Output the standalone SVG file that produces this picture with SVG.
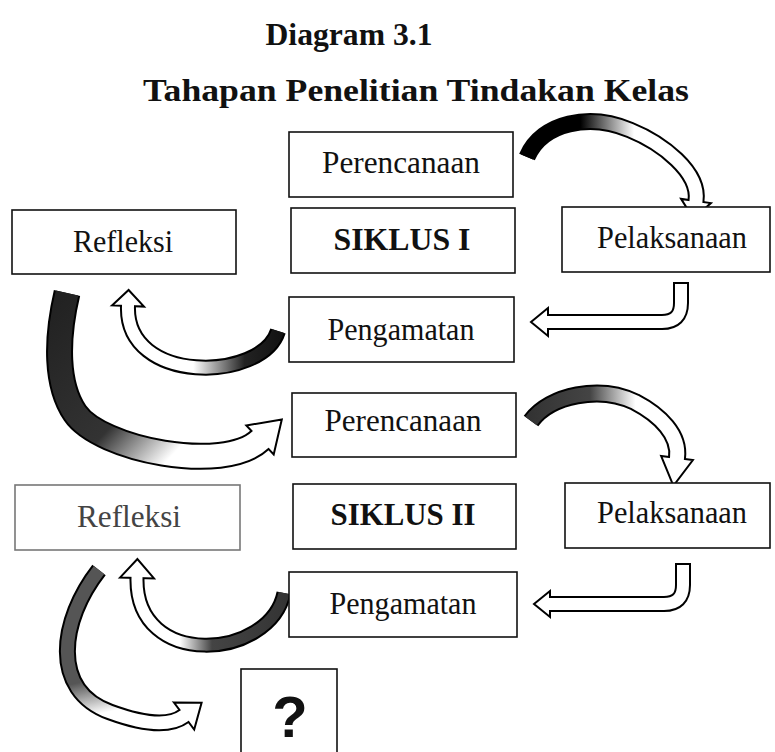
<svg xmlns="http://www.w3.org/2000/svg" width="775" height="752" viewBox="0 0 775 752">
<style>
  .box { fill:#fff; stroke:#111; stroke-width:1.6; }
  .t { font-family:"Liberation Serif","Times New Roman",serif; font-size:31px; fill:#111; text-anchor:middle; }
  .b { font-weight:bold; }
  .ttl { font-family:"Liberation Serif","Times New Roman",serif; font-size:32px; font-weight:bold; fill:#111; text-anchor:middle; }
  .bo { fill:none; stroke:#000; stroke-linecap:butt; stroke-linejoin:round; }
  .bi { fill:none; stroke-linecap:butt; stroke-linejoin:round; }
  .w { stroke:#fff; }
  .hd { fill:#fff; stroke:#000; stroke-width:2; stroke-linejoin:miter; }
</style>
<defs>
  <linearGradient id="g1" gradientUnits="userSpaceOnUse" x1="527" y1="150" x2="680" y2="150">
    <stop offset="0" stop-color="#000"/><stop offset="0.35" stop-color="#000"/><stop offset="0.7" stop-color="#fff"/>
  </linearGradient>
  <linearGradient id="g3" gradientUnits="userSpaceOnUse" x1="285" y1="0" x2="150" y2="0">
    <stop offset="0" stop-color="#111"/><stop offset="0.3" stop-color="#222"/><stop offset="0.68" stop-color="#fff"/>
  </linearGradient>
  <linearGradient id="g4" gradientUnits="userSpaceOnUse" x1="60" y1="300" x2="240" y2="470">
    <stop offset="0" stop-color="#222"/><stop offset="0.5" stop-color="#333"/><stop offset="0.76" stop-color="#fff"/>
  </linearGradient>
  <linearGradient id="g5" gradientUnits="userSpaceOnUse" x1="530" y1="0" x2="650" y2="0">
    <stop offset="0" stop-color="#333"/><stop offset="0.5" stop-color="#444"/><stop offset="0.88" stop-color="#fff"/>
  </linearGradient>
  <linearGradient id="g7" gradientUnits="userSpaceOnUse" x1="290" y1="0" x2="160" y2="0">
    <stop offset="0" stop-color="#333"/><stop offset="0.6" stop-color="#444"/><stop offset="0.85" stop-color="#fff"/>
  </linearGradient>
  <linearGradient id="g8" gradientUnits="userSpaceOnUse" x1="95" y1="565" x2="130" y2="720">
    <stop offset="0" stop-color="#555"/><stop offset="0.7" stop-color="#555"/><stop offset="0.92" stop-color="#fff"/>
  </linearGradient>
</defs>
<rect width="775" height="752" fill="#fff"/>

<g id="title">
  <text class="ttl" x="349" y="45" textLength="167" lengthAdjust="spacingAndGlyphs">Diagram 3.1</text>
  <text class="ttl" x="416" y="101" textLength="546" lengthAdjust="spacingAndGlyphs">Tahapan Penelitian Tindakan Kelas</text>
</g>

<g id="connectors">
  <g id="a1">
    <path class="bo" stroke-width="17" d="M527,157 C542,122 590,113 630,130 C662,143 700,172 696,201"/>
    <polygon class="hd" points="681.1,198.9 693.5,218.8 710.9,203.1"/>
    <path class="bi" style="stroke:url(#g1)" stroke-width="13" d="M527,157 C542,122 590,113 630,130 C662,143 700,172 696,201 L695.5,205"/>
  </g>
  <g id="a2">
    <path class="bo" stroke-width="16" d="M681,282 V303 Q681,322 662,322 H548"/>
    <polygon class="hd" points="548,308 531,322 548,336"/>
    <path class="bi w" stroke-width="12" d="M681,284 V303 Q681,322 662,322 H544"/>
  </g>
  <g id="a3">
    <path class="bo" stroke-width="16" d="M278,331 C262,382 125,385 128,306"/>
    <polygon class="hd" points="112,305.4 128.6,290 144,306.6"/>
    <path class="bi" style="stroke:url(#g3)" stroke-width="12" d="M278,331 C262,382 125,385 128,306 L128.2,302"/>
  </g>
  <g id="a4">
    <path class="bo" stroke-width="27" d="M67,293 C56,340 56,385 75,413 C100,450 224,474 260,440"/>
    <polygon class="hd" points="246.3,425.5 281.8,419.4 273.7,454.5"/>
    <path class="bi" style="stroke:url(#g4)" stroke-width="23" d="M67,293 C56,340 56,385 75,413 C100,450 224,474 260,440 L262.9,437.3"/>
  </g>
  <g id="a5">
    <path class="bo" stroke-width="18" d="M531,421 C550,395 600,385 635,402 C660,415 680,435 677,458"/>
    <polygon class="hd" points="661.1,455.9 673.4,485.8 692.9,460.1"/>
    <path class="bi" style="stroke:url(#g5)" stroke-width="14" d="M531,421 C550,395 600,385 635,402 C660,415 680,435 677,458 L676.5,462"/>
  </g>
  <g id="a6">
    <path class="bo" stroke-width="16" d="M683,563 V585 Q683,604 664,604 H550"/>
    <polygon class="hd" points="550,591 534,604 550,617"/>
    <path class="bi w" stroke-width="12" d="M683,565 V585 Q683,604 664,604 H546"/>
  </g>
  <g id="a7">
    <path class="bo" stroke-width="15" d="M284,593 C270,660 135,670 137,578"/>
    <polygon class="hd" points="120,577.6 137.4,559 154,578.4"/>
    <path class="bi" style="stroke:url(#g7)" stroke-width="11" d="M284,593 C270,660 135,670 137,578 L137.1,574"/>
  </g>
  <g id="a8">
    <path class="bo" stroke-width="17" d="M99,570 C60,620 50,690 110,712 C140,723 168,728 184,716"/>
    <polygon class="hd" points="173.8,702.4 201.6,702.8 194.2,729.6"/>
    <path class="bi" style="stroke:url(#g8)" stroke-width="13" d="M99,570 C60,620 50,690 110,712 C140,723 168,728 184,716 L187.2,713.6"/>
  </g>
</g>

<g id="perencanaan1">
  <rect class="box" x="289" y="132" width="224" height="65"/>
  <text class="t" x="401" y="173" textLength="158" lengthAdjust="spacingAndGlyphs">Perencanaan</text>
</g>
<g id="refleksi1">
  <rect class="box" x="12" y="210" width="224" height="64"/>
  <text class="t" x="123" y="252" textLength="100" lengthAdjust="spacingAndGlyphs">Refleksi</text>
</g>
<g id="siklus1">
  <rect class="box" x="291" y="208" width="224" height="65"/>
  <text class="t b" x="402" y="250" textLength="137" lengthAdjust="spacingAndGlyphs">SIKLUS I</text>
</g>
<g id="pelaksanaan1">
  <rect class="box" x="562" y="207" width="208" height="65"/>
  <text class="t" x="672" y="248" textLength="150" lengthAdjust="spacingAndGlyphs">Pelaksanaan</text>
</g>
<g id="pengamatan1">
  <rect class="box" x="289" y="297" width="225" height="65"/>
  <text class="t" x="401" y="340" textLength="147" lengthAdjust="spacingAndGlyphs">Pengamatan</text>
</g>
<g id="perencanaan2">
  <rect class="box" x="292" y="393" width="224" height="64"/>
  <text class="t" x="403" y="431" textLength="157" lengthAdjust="spacingAndGlyphs">Perencanaan</text>
</g>
<g id="refleksi2">
  <rect class="box" x="15" y="485" width="225" height="65" style="stroke:#777"/>
  <text class="t" x="129" y="527" textLength="104" lengthAdjust="spacingAndGlyphs" style="fill:#444">Refleksi</text>
</g>
<g id="siklus2">
  <rect class="box" x="293" y="484" width="223" height="65"/>
  <text class="t b" x="403" y="525" textLength="145" lengthAdjust="spacingAndGlyphs">SIKLUS II</text>
</g>
<g id="pelaksanaan2">
  <rect class="box" x="565" y="483" width="205" height="65"/>
  <text class="t" x="672" y="523" textLength="150" lengthAdjust="spacingAndGlyphs">Pelaksanaan</text>
</g>
<g id="pengamatan2">
  <rect class="box" x="289" y="572" width="228" height="65"/>
  <text class="t" x="403" y="614" textLength="147" lengthAdjust="spacingAndGlyphs">Pengamatan</text>
</g>
<g id="question">
  <rect class="box" x="241" y="669" width="96" height="100"/>
  <text x="290" y="737" style="font-family:'Liberation Sans',Arial,sans-serif;font-size:58px;font-weight:bold;fill:#111;text-anchor:middle">?</text>
</g>
</svg>
